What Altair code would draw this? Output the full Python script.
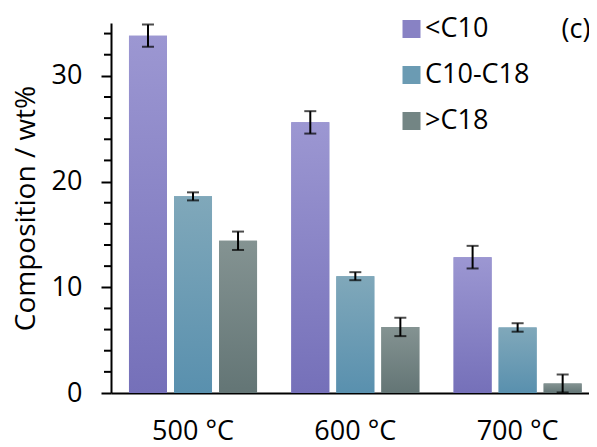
import altair as alt
import pandas as pd

temps = ["500 °C", "600 °C", "700 °C"]
series = ["<C10", "C10-C18", ">C18"]
val_c10 = [33.8, 25.6, 12.85]
val_c10_18 = [18.6, 11.05, 6.2]
val_c18 = [14.4, 6.25, 0.9]
err_c10 = [1.05, 1.06, 1.07]
err_c10_18 = [0.38, 0.38, 0.40]
err_c18 = [0.87, 0.87, 0.85]
minor_ticks = [2, 4, 6, 8, 12, 14, 16, 18, 22, 24, 26, 28, 32, 34]
major_ticks = [0, 10, 20, 30]
mid_colors = ["#8882C4", "#6B9BB3", "#738584"]
grad_stops = [("#9C97D2", "#7570B9"), ("#80A8BA", "#5990AE"), ("#849392", "#637575")]

rows = []
for s, vals, errs in [(series[0], val_c10, err_c10), (series[1], val_c10_18, err_c10_18), (series[2], val_c18, err_c18)]:
    for t, v, e in zip(temps, vals, errs):
        rows.append({"temp": t, "series": s, "value": v, "lo": v - e, "hi": v + e})
df = pd.DataFrame(rows)

FONT = "Open Sans"
W, H = 478, 370

x_enc = alt.X("temp:N", sort=temps,
              scale=alt.Scale(paddingInner=0.211, paddingOuter=0.078, align=0.71),
              axis=alt.Axis(title=None, ticks=False, labelAngle=0, labelPadding=25,
                            labelFontSize=27, domainWidth=2, domainColor="black"))
xo_enc = alt.XOffset("series:N", sort=series,
                     scale=alt.Scale(domain=series, paddingInner=0.156, paddingOuter=0))
y_scale = alt.Scale(domain=[0, 35], nice=False)
y_axis = alt.Axis(title="Composition / wt%", values=major_ticks, tickSize=10, tickWidth=2,
                  labelPadding=19, titlePadding=11, labelFontSize=27, titleFontSize=28,
                  domainWidth=2, domainColor="black", grid=False)

base_bars = alt.Chart(df).mark_bar().encode(
    x=x_enc, xOffset=xo_enc,
    y=alt.Y("value:Q", scale=y_scale, axis=y_axis),
    color=alt.Color("series:N", sort=series,
                    scale=alt.Scale(domain=series, range=mid_colors),
                    legend=alt.Legend(title=None, orient="none", legendX=287, legendY=-7.5,
                                      symbolType="square", symbolSize=324, symbolStrokeWidth=0,
                                      labelFontSize=27, labelOffset=0, rowPadding=18,
                                      padding=0, labelFont=FONT, labelColor="black")),
)

layers = [base_bars]
for s, (top, bot) in zip(series, grad_stops):
    g = alt.Gradient(gradient="linear",
                     stops=[alt.GradientStop(color=top, offset=0), alt.GradientStop(color=bot, offset=1)],
                     x1=0, x2=0, y1=0, y2=1)
    layers.append(
        alt.Chart(df[df["series"] == s]).mark_bar(fill=g).encode(
            x=x_enc, xOffset=xo_enc,
            y=alt.Y("value:Q", scale=y_scale, axis=y_axis),
        )
    )

err_rule = alt.Chart(df).mark_rule(color="black", strokeWidth=2).encode(
    x=x_enc, xOffset=xo_enc,
    y=alt.Y("lo:Q", scale=y_scale, axis=y_axis), y2="hi:Q",
)
cap_hi = alt.Chart(df).mark_tick(orient="horizontal", size=12, thickness=2, color="black").encode(
    x=x_enc, xOffset=xo_enc, y=alt.Y("hi:Q", scale=y_scale, axis=y_axis),
)
cap_lo = alt.Chart(df).mark_tick(orient="horizontal", size=12, thickness=2, color="black").encode(
    x=x_enc, xOffset=xo_enc, y=alt.Y("lo:Q", scale=y_scale, axis=y_axis),
)
minor = alt.Chart(pd.DataFrame({"m": minor_ticks})).mark_rule(color="black", strokeWidth=2).encode(
    y=alt.Y("m:Q", scale=y_scale, axis=y_axis),
    x=alt.value(-7), x2=alt.value(0),
)
label_c = alt.Chart(pd.DataFrame({"t": ["(c)"]})).mark_text(
    fontSize=27, font=FONT, color="black", align="center", baseline="middle"
).encode(text="t:N", x=alt.value(465), y=alt.value(7))

layers += [err_rule, cap_hi, cap_lo, minor, label_c]

chart = alt.layer(*layers).properties(
    width=W, height=H,
    autosize=alt.AutoSizeParams(type="none"),
    padding={"left": 103, "top": 15, "right": 0, "bottom": 54},
).configure(font=FONT).configure_view(stroke=None).configure_axis(
    labelFont=FONT, titleFont=FONT, labelColor="black", titleColor="black",
    titleFontWeight="normal", tickColor="black",
)

chart.save("out.html", embed_options={"renderer": "svg", "actions": False})
